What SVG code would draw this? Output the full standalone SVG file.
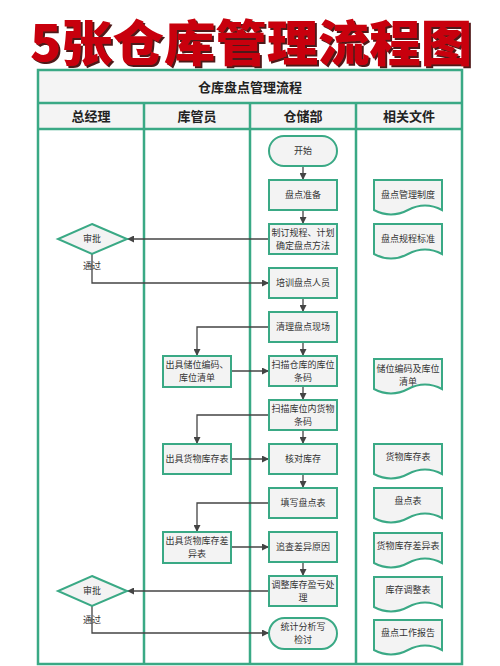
<svg xmlns="http://www.w3.org/2000/svg" width="500" height="666" viewBox="0 0 500 666">
<style>
.t{font-family:"Noto Sans CJK SC","Noto Sans",sans-serif;fill:#333;font-size:9px;text-anchor:middle}
.h{font-family:"Noto Sans CJK SC","Noto Sans",sans-serif;fill:#222;font-size:13px;font-weight:700;text-anchor:middle}
.box{fill:#f3f3f3;stroke:#3aa985;stroke-width:2}
.lane{fill:none;stroke:#3aa985;stroke-width:2.5}
.ca{fill:none;stroke:#444;stroke-width:1.3;marker-end:url(#ar)}
</style>
<defs>
<marker id="ar" viewBox="0 0 10 10" refX="10" refY="5" markerWidth="7" markerHeight="7" markerUnits="userSpaceOnUse" orient="auto"><path d="M0,0 L10,5 L0,10 z" fill="#444"/></marker>
<filter id="sh" x="-5%" y="-20%" width="110%" height="150%"><feDropShadow dx="2" dy="2" stdDeviation="0.6" flood-color="#3a0000" flood-opacity="0.9"/></filter>
<path id="doc" d="M0,0 H68 V30 Q51,21 34,30 T0,30 Z"/>
</defs>
<rect width="500" height="666" fill="#fff"/>
<text x="251" y="61" font-family="Noto Sans CJK SC,sans-serif" font-size="49" font-weight="900" fill="#c8000c" text-anchor="middle" textLength="442" lengthAdjust="spacingAndGlyphs" filter="url(#sh)">5张仓库管理流程图</text>

<g id="table">
<rect x="38" y="70" width="424" height="33" fill="#f4f4f4"/>
<rect x="38" y="103" width="424" height="26" fill="#f4f4f4"/>
<rect x="38" y="70" width="424" height="594" class="lane"/>
<line x1="38" y1="103" x2="462" y2="103" class="lane"/>
<line x1="38" y1="129" x2="462" y2="129" class="lane"/>
<line x1="144" y1="103" x2="144" y2="664" class="lane"/>
<line x1="250" y1="103" x2="250" y2="664" class="lane"/>
<line x1="356" y1="103" x2="356" y2="664" class="lane"/>
<text x="250" y="92" class="h" font-size="12">仓库盘点管理流程</text>
<text x="91" y="121" class="h">总经理</text>
<text x="197" y="121" class="h">库管员</text>
<text x="303" y="121" class="h">仓储部</text>
<text x="409" y="121" class="h">相关文件</text>
</g>

<g id="connectors">
<line x1="303" y1="166" x2="303" y2="180" class="ca"/>
<line x1="303" y1="210" x2="303" y2="224" class="ca"/>
<line x1="303" y1="298" x2="303" y2="312" class="ca"/>
<line x1="303" y1="342" x2="303" y2="356" class="ca"/>
<line x1="303" y1="386" x2="303" y2="400" class="ca"/>
<line x1="303" y1="430" x2="303" y2="444" class="ca"/>
<line x1="303" y1="474" x2="303" y2="488" class="ca"/>
<line x1="303" y1="562" x2="303" y2="576" class="ca"/>
<line x1="269" y1="239" x2="127" y2="239" class="ca"/>
<polyline points="92,254 92,283 269,283" class="ca"/>
<polyline points="269,327 197,327 197,356" class="ca"/>
<line x1="231" y1="371" x2="269" y2="371" class="ca"/>
<polyline points="269,415 197,415 197,444" class="ca"/>
<line x1="231" y1="459" x2="269" y2="459" class="ca"/>
<polyline points="269,503 197,503 197,532" class="ca"/>
<line x1="231" y1="547" x2="269" y2="547" class="ca"/>
<line x1="269" y1="591" x2="127" y2="591" class="ca"/>
<polyline points="92,606 92,633 269,633" class="ca"/>
</g>

<g id="n_start"><rect x="269" y="136" width="68" height="30" rx="15" class="box"/><text x="303" y="154" class="t">开始</text></g>
<g id="n_prep"><rect x="269" y="180" width="68" height="30" class="box"/><text x="303" y="198" class="t">盘点准备</text></g>
<g id="n_plan"><rect x="269" y="224" width="68" height="30" class="box"/><text x="303" y="236" class="t">制订规程、计划</text><text x="303" y="249" class="t">确定盘点方法</text></g>
<g id="n_train"><rect x="269" y="268" width="68" height="30" class="box"/><text x="303" y="286" class="t">培训盘点人员</text></g>
<g id="n_clean"><rect x="269" y="312" width="68" height="30" class="box"/><text x="303" y="330" class="t">清理盘点现场</text></g>
<g id="n_scan1"><rect x="269" y="356" width="68" height="30" class="box"/><text x="303" y="368" class="t">扫描仓库的库位</text><text x="303" y="381" class="t">条码</text></g>
<g id="n_scan2"><rect x="269" y="400" width="68" height="30" class="box"/><text x="303" y="412" class="t">扫描库位内货物</text><text x="303" y="425" class="t">条码</text></g>
<g id="n_check"><rect x="269" y="444" width="68" height="30" class="box"/><text x="303" y="462" class="t">核对库存</text></g>
<g id="n_fill"><rect x="269" y="488" width="68" height="30" class="box"/><text x="303" y="506" class="t">填写盘点表</text></g>
<g id="n_trace"><rect x="269" y="532" width="68" height="30" class="box"/><text x="303" y="550" class="t">追查差异原因</text></g>
<g id="n_adjust"><rect x="269" y="576" width="68" height="30" class="box"/><text x="303" y="588" class="t">调整库存盈亏处</text><text x="303" y="601" class="t">理</text></g>
<g id="n_stat"><rect x="269" y="618" width="68" height="31" rx="15.5" class="box"/><text x="303" y="630" class="t">统计分析写</text><text x="303" y="643" class="t">检讨</text></g>

<g id="k_code"><rect x="163" y="356" width="68" height="31" class="box"/><text x="197" y="368" class="t">出具储位编码、</text><text x="197" y="381" class="t">库位清单</text></g>
<g id="k_stock"><rect x="163" y="444" width="68" height="30" class="box"/><text x="197" y="462" class="t">出具货物库存表</text></g>
<g id="k_diff"><rect x="163" y="532" width="68" height="31" class="box"/><text x="197" y="544" class="t">出具货物库存差</text><text x="197" y="557" class="t">异表</text></g>

<g id="d_approve1"><polygon points="92,224 127,239 92,254 58,239" class="box"/><text x="92" y="242" class="t">审批</text><text x="92" y="269" class="t">通过</text></g>
<g id="d_approve2"><polygon points="92,576 127,591 92,606 58,591" class="box"/><text x="92" y="594" class="t">审批</text><text x="92" y="623" class="t">通过</text></g>

<g id="f1"><use href="#doc" x="374" y="180" class="box"/><text x="408" y="198" class="t">盘点管理制度</text></g>
<g id="f2"><use href="#doc" x="374" y="224" class="box"/><text x="408" y="242" class="t">盘点规程标准</text></g>
<g id="f3"><use href="#doc" x="374" y="359" class="box"/><text x="408" y="372" class="t">储位编码及库位</text><text x="408" y="385" class="t">清单</text></g>
<g id="f4"><use href="#doc" x="374" y="444" class="box"/><text x="408" y="460" class="t">货物库存表</text></g>
<g id="f5"><use href="#doc" x="374" y="488" class="box"/><text x="408" y="504" class="t">盘点表</text></g>
<g id="f6"><use href="#doc" x="374" y="533" class="box"/><text x="408" y="549" class="t">货物库存差异表</text></g>
<g id="f7"><use href="#doc" x="374" y="577" class="box"/><text x="408" y="593" class="t">库存调整表</text></g>
<g id="f8"><use href="#doc" x="374" y="620" class="box"/><text x="408" y="636" class="t">盘点工作报告</text></g>
</svg>
